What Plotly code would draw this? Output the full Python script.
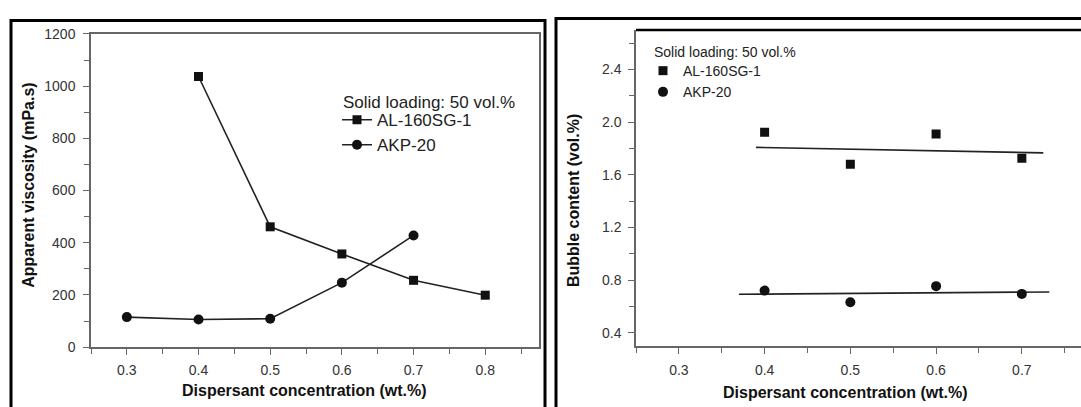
import plotly.graph_objects as go

W, H = 1081, 407

# Apparent viscosity vs dispersant concentration
visc_x_al = [0.4, 0.5, 0.6, 0.7, 0.8]
visc_y_al = [1037, 461, 357, 256, 199]
visc_x_akp = [0.3, 0.4, 0.5, 0.6, 0.7]
visc_y_akp = [115, 106, 109, 247, 428]

# Bubble content vs dispersant concentration
bub_x = [0.4, 0.5, 0.6, 0.7]
bub_y_al = [1.924, 1.68, 1.911, 1.726]
bub_y_akp = [0.72, 0.632, 0.754, 0.695]

# Linear trend lines (end points)
fit_x_al = [0.39, 0.725]
fit_y_al = [1.809, 1.767]
fit_x_akp = [0.37, 0.732]
fit_y_akp = [0.692, 0.71]

x_ticks_left = [0.3, 0.4, 0.5, 0.6, 0.7, 0.8]
y_ticks_left = [0, 200, 400, 600, 800, 1000, 1200]
x_ticks_right = [0.3, 0.4, 0.5, 0.6, 0.7]
y_ticks_right = [0.4, 0.8, 1.2, 1.6, 2.0, 2.4]

legend_heading = "Solid loading: 50 vol.%"

FONT = "Arial, Liberation Sans, sans-serif"
MK = "#111111"
LN = "#222222"
AX = "#666666"


def px(x):
    return x / W


def py(y):
    return 1 - y / H


fig = go.Figure()

fig.add_trace(go.Scatter(
    x=visc_x_al, y=visc_y_al, name="AL-160SG-1", mode="lines+markers",
    line=dict(color=LN, width=1.6), marker=dict(symbol="square", size=9, color=MK),
    xaxis="x", yaxis="y", legend="legend"))
fig.add_trace(go.Scatter(
    x=visc_x_akp, y=visc_y_akp, name="AKP-20", mode="lines+markers",
    line=dict(color=LN, width=1.6), marker=dict(symbol="circle", size=10, color=MK),
    xaxis="x", yaxis="y", legend="legend"))

fig.add_trace(go.Scatter(
    x=fit_x_al, y=fit_y_al, mode="lines", line=dict(color=LN, width=1.6),
    showlegend=False, xaxis="x2", yaxis="y2"))
fig.add_trace(go.Scatter(
    x=fit_x_akp, y=fit_y_akp, mode="lines", line=dict(color=LN, width=1.6),
    showlegend=False, xaxis="x2", yaxis="y2"))
fig.add_trace(go.Scatter(
    x=bub_x, y=bub_y_al, name="AL-160SG-1", mode="markers",
    marker=dict(symbol="square", size=9, color=MK),
    xaxis="x2", yaxis="y2", legend="legend2"))
fig.add_trace(go.Scatter(
    x=bub_x, y=bub_y_akp, name="AKP-20", mode="markers",
    marker=dict(symbol="circle", size=10, color=MK),
    xaxis="x2", yaxis="y2", legend="legend2"))

tickfont = dict(family=FONT, size=14, color="#333333")
common = dict(showgrid=False, zeroline=False, showline=True, linecolor=AX, linewidth=1.5,
              ticks="outside", ticklen=6, tickwidth=1.2, tickcolor=AX, tickfont=tickfont)

fig.update_layout(
    width=W, height=H,
    margin=dict(l=0, r=0, t=0, b=0),
    paper_bgcolor="white", plot_bgcolor="white",
    font=dict(family=FONT, color="#222222"),
    xaxis=dict(domain=[px(91), px(539)], range=[0.25, 0.875], tickvals=x_ticks_left,
               ticktext=[f"{v:.1f}" for v in x_ticks_left], mirror=True, anchor="y",
               ticklabelstandoff=3,
               minor=dict(dtick=0.05, tick0=0.25, ticks="outside", ticklen=5, tickcolor=AX),
               **common),
    yaxis=dict(domain=[py(353), py(27)], range=[0, 1200], tickvals=y_ticks_left,
               mirror=True, anchor="x", ticklabelstandoff=5,
               minor=dict(dtick=100, ticks="outside", ticklen=5, tickcolor=AX),
               **common),
    xaxis2=dict(domain=[px(636), 1.0], range=[0.25, 0.769], tickvals=x_ticks_right,
                ticktext=[f"{v:.1f}" for v in x_ticks_right], anchor="y2",
                ticklabelstandoff=5,
                minor=dict(dtick=0.05, tick0=0.25, ticks="outside", ticklen=5, tickcolor=AX),
                **common),
    yaxis2=dict(domain=[py(351.7), py(23)], range=[0.3, 2.7], tickvals=y_ticks_right,
                ticktext=[f"{v:.1f}" for v in y_ticks_right], anchor="x2",
                ticklabelstandoff=4,
                minor=dict(dtick=0.2, tick0=0.2, ticks="outside", ticklen=5, tickcolor=AX),
                **common),
    legend=dict(x=px(337), y=py(98), xanchor="left", yanchor="top",
                bgcolor="rgba(0,0,0,0)", font=dict(family=FONT, size=17, color="#222222"),
                tracegroupgap=0, itemwidth=30),
    legend2=dict(x=px(643), y=py(49), xanchor="left", yanchor="top",
                 bgcolor="rgba(0,0,0,0)", font=dict(family=FONT, size=14, color="#222222"),
                 tracegroupgap=0, itemwidth=30),
)

# Legend headings
fig.add_annotation(text=legend_heading, x=px(341), y=py(98), xref="paper", yref="paper",
                   xanchor="left", yanchor="middle", showarrow=False,
                   font=dict(family=FONT, size=17, color="#222222"))
fig.add_annotation(text=legend_heading, x=px(652), y=py(46), xref="paper", yref="paper",
                   xanchor="left", yanchor="middle", showarrow=False,
                   font=dict(family=FONT, size=14, color="#222222"))

# Axis titles
title_font = dict(family=FONT, size=16, color="#111111", weight="bold")
annos = [
    ("Apparent viscosity (mPa.s)", 29, 185, -90),
    ("Dispersant concentration (wt.%)", 304, 398, 0),
    ("Bubble content (vol.%)", 573, 201, -90),
    ("Dispersant concentration (wt.%)", 845, 400, 0),
]
for text, ax_, ay_, ang in annos:
    fig.add_annotation(text=f"<b>{text}</b>", x=px(ax_), y=py(ay_), xref="paper", yref="paper",
                       xanchor="center", yanchor="middle", textangle=ang, showarrow=False,
                       font=title_font)

# Panel frames and the dark top border of the right plot area
fig.add_shape(type="rect", xref="paper", yref="paper", x0=px(11), x1=px(545), y0=-0.2, y1=py(13),
              line=dict(color="black", width=3), layer="above")
fig.add_shape(type="rect", xref="paper", yref="paper", x0=px(556), x1=1.2, y0=-0.2, y1=py(11),
              line=dict(color="black", width=3), layer="above")
fig.add_shape(type="line", xref="paper", yref="paper", x0=px(636), x1=1.0, y0=py(23), y1=py(23),
              line=dict(color="black", width=2.5), layer="above")

fig.write_html("out.html")
